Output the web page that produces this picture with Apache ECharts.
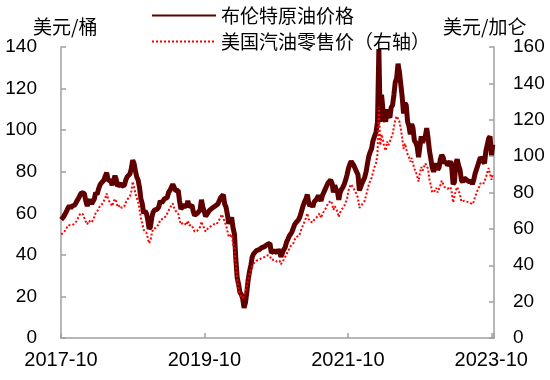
<!DOCTYPE html>
<html><head><meta charset="utf-8">
<script src="https://cdn.jsdelivr.net/npm/echarts@6/dist/echarts.min.js"></script>
<style>html,body{margin:0;padding:0;background:#fff}#c{width:550px;height:380px}</style>
</head><body><div id="c"></div>
<script>
// Weekly observations, starting Monday 2017-10-02
const firstWeek = '2017-10-02';
const seriesNames = ['布伦特原油价格', '美国汽油零售价（右轴）'];
const leftUnit = '美元/桶';
const rightUnit = '美元/加仑';
const xTickLabels = ['2017-10', '2019-10', '2021-10', '2023-10'];

// Brent crude (left axis)
const brent2017 = [57, 57.5, 58.5, 59, 61, 62.5, 63.5, 62.5, 63.5, 63, 64, 64.5, 66.5];
const brent2018 = [67.5, 69, 70, 70.5, 69.5, 66, 63.5, 65.5, 66.5, 64.5, 65, 67, 70,
  69, 71.5, 73.5, 74.5, 74.5, 76, 78, 79.5, 76, 76, 75.5, 73.5, 76,
  78, 76, 73, 73.5, 74.5, 73, 72.5, 73.5, 76, 77.5, 78, 79, 81.5,
  85.5, 84, 80.5, 77.5, 76, 72.5, 67, 64.5, 60, 61, 60, 57, 52.5, 53.5];
const brent2019 = [58, 60.5, 61.5, 61, 62, 63, 66, 65, 66, 67, 67.5, 67.5,
  70, 71, 71.5, 74, 72.5, 71, 71.5, 71, 66, 62, 62, 64, 64.5,
  63, 66, 63, 63.5, 64, 61, 59, 59.5, 60, 60.5, 61.5, 66.5, 63, 61,
  58.5, 59.5, 60.5, 61.5, 62, 62.5, 62.5, 63.5, 63, 64.5, 66, 67.5, 68];
const brent2020 = [69, 64.5, 63, 59.5, 55, 55.5, 58, 53, 50, 38, 29, 26, 22,
  21, 19, 14.5, 17, 22, 28, 32, 35, 39, 40.5, 40, 42, 41.5,
  42.5, 43, 43.5, 43.5, 44, 44.5, 45, 45.5, 45.5, 41, 40.5, 42, 41.5,
  41, 42.5, 41.5, 39, 38.5, 42.5, 43.5, 46, 47.5, 49, 50, 51, 51];
const brent2021 = [54.5, 55.5, 55.5, 57, 58.5, 61, 63.5, 65.5, 67, 69, 65, 63.5, 64.5,
  63, 65.5, 66, 67, 68.5, 68.5, 66, 68.5, 70, 71.5, 73, 74.5, 75,
  76, 74.5, 70, 73.5, 71.5, 70.5, 66.5, 70, 71.5, 72.5, 74, 76, 78.5,
  81.5, 83.5, 85, 84, 83, 82.5, 80, 78.5, 71, 71.5, 74.5, 74, 77.5];
const brent2022 = [80, 84, 87.5, 89.5, 91, 95, 97, 99, 104, 139, 104, 117, 110,
  106, 104, 110, 107, 106, 111, 112, 117, 123, 125, 132, 128, 122,
  116, 108, 113, 112, 104, 102, 98, 103, 101, 95, 94, 92, 87,
  92, 97, 94, 96, 97, 101, 96, 90, 86, 82, 80, 82, 84];
const brent2023 = [81, 82, 86, 88, 87, 84, 85, 83, 83, 85, 82, 74, 75,
  84, 86, 83, 81, 76, 75, 77, 77, 76, 76, 75, 76, 74,
  76, 79, 81, 83, 85, 87, 87, 85, 84, 90, 93, 96, 97, 88, 93];

// US retail gasoline (right axis)
const gas2017 = [57, 56.5, 58, 59, 60.5, 62, 63, 62, 63, 62.5, 63.5, 64, 65.5];
const gas2018 = [67, 68.5, 69.5, 68, 67, 64, 62.5, 64.5, 65, 63.5, 64.5, 66.5, 69,
  68, 70.5, 72.5, 73.5, 74, 75.5, 77, 79.5, 76.5, 75, 74.5, 72.5, 75,
  76.5, 75, 72, 72.5, 73, 71.5, 71, 72.5, 74.5, 76, 77, 78, 80.5,
  86, 83, 79.5, 77, 75, 71, 66, 63, 59.5, 60, 58, 55, 52, 53.5];
const gas2019 = [57.5, 60, 61, 60.5, 61.5, 62.5, 65, 64.5, 65.5, 66.5, 67, 68,
  70, 71.5, 72, 74, 71.5, 70, 69.5, 68.5, 65, 62.5, 63, 63.5, 64,
  62, 64.5, 62, 61.5, 62, 60, 58.5, 59.5, 59, 59.5, 61, 64, 62, 60.5,
  58.5, 59, 60.5, 61, 61.5, 62, 62.5, 63, 62.5, 63.5, 65, 66.5, 68];
const gas2020 = [68.5, 64, 62, 59, 55.5, 55, 57, 52, 49, 40, 32, 27, 24,
  23, 22, 21, 25, 29, 32.5, 35, 37.5, 39.5, 41, 41.5, 42.5, 42,
  43, 43.5, 44, 44, 44.5, 45, 45.5, 45.5, 45, 43, 42, 43, 42.5,
  42, 43, 42.5, 40.5, 40, 43, 44, 46, 47, 49, 50.5, 51.5, 52];
const gas2021 = [54, 55.5, 55.5, 56, 57.5, 60, 62, 64, 66, 68.5, 65.5, 64, 64.5,
  63.5, 65, 65.5, 66.5, 67.5, 68.5, 66, 68, 69.5, 70.5, 72, 74, 74.5,
  75.5, 74, 70.5, 72.5, 71, 69.5, 66.5, 69, 70.5, 71, 72.5, 74.5, 76.5,
  81, 83, 84.5, 83.5, 82, 81.5, 79, 77, 71.5, 70.5, 73.5, 73, 75.5];
const gas2022 = [78.5, 81.5, 84.5, 86.5, 88, 91, 94, 96, 101, 127, 106, 112, 109,
  105, 103, 108, 106, 106, 110, 112, 116, 120, 122, 123, 119, 115,
  110, 104, 107, 106, 101, 99.5, 97, 99, 98, 93, 91.5, 89, 86,
  91, 94, 92, 94, 96, 96, 93, 87, 84, 80, 79, 81, 82.5];
const gas2023 = [80, 81, 84, 86.5, 86, 83, 84, 82, 82, 83, 80, 74.5, 75.5,
  81, 83, 81, 79, 75, 74.5, 75.5, 76, 75, 75, 74.5, 75.5, 73.5,
  75, 77.5, 79.5, 81.5, 83, 85, 86, 84.5, 83.5, 88, 91, 93.5, 94, 87, 90];

const brent = [].concat(brent2017, brent2018, brent2019, brent2020, brent2021, brent2022, brent2023);
const gas = [].concat(gas2017, gas2018, gas2019, gas2020, gas2021, gas2022, gas2023);

// month offset since 2017-10-01 for each weekly date
function monthOffset(t) {
  const d = new Date(t);
  const y = d.getUTCFullYear(), mo = d.getUTCMonth(), day = d.getUTCDate();
  const dim = new Date(Date.UTC(y, mo + 1, 0)).getUTCDate();
  return (y - 2017) * 12 + (mo - 9) + (day - 1) / dim;
}
const t0 = Date.parse(firstWeek + 'T00:00:00Z');
const xs = brent.map((_, i) => monthOffset(t0 + i * 7 * 86400000));
const brentData = brent.map((v, i) => [xs[i], v]);
const gasData = gas.map((v, i) => [xs[i], v]);

const numFont = "'Liberation Sans', Arial, sans-serif";
const cjkFont = "'Noto Sans CJK SC', 'Liberation Sans', sans-serif";
const axisColor = '#a0a0a0';

const chart = echarts.init(document.getElementById('c'), null, {renderer: 'canvas'});
chart.setOption({
  animation: false,
  backgroundColor: '#fff',
  grid: {left: 61, right: 56, top: 47, bottom: 42, containLabel: false},
  legend: {
    orient: 'vertical', left: 146, top: 1, itemWidth: 64, itemHeight: 14, itemGap: 7,
    itemStyle: {opacity: 0},
    textStyle: {fontFamily: cjkFont, fontSize: 19, color: '#000'},
    data: seriesNames
  },
  graphic: [
    {type: 'text', left: 33, top: 17, style: {text: leftUnit, font: "19px " + cjkFont, fill: '#000'}},
    {type: 'text', left: 443, top: 17, style: {text: rightUnit, font: "19px " + cjkFont, fill: '#000'}}
  ],
  xAxis: {
    type: 'value', min: 0, max: 72.46, interval: 24,
    axisLine: {lineStyle: {color: axisColor, width: 1.5}},
    axisTick: {inside: true, length: 5, lineStyle: {color: axisColor, width: 1.5}},
    splitLine: {show: false},
    axisLabel: {
      margin: 12, fontSize: 20, fontFamily: numFont, color: '#000', hideOverlap: false,
      formatter: v => (Math.abs(v / 24 - Math.round(v / 24)) < 1e-6 ? xTickLabels[Math.round(v / 24)] : '')
    }
  },
  yAxis: [
    {
      type: 'value', min: 0, max: 140, interval: 20, position: 'left',
      axisLine: {show: true, lineStyle: {color: axisColor, width: 1.5}},
      axisTick: {show: true, inside: true, length: 5, lineStyle: {color: axisColor, width: 1.5}},
      splitLine: {show: false},
      axisLabel: {margin: 24, fontSize: 19, fontFamily: numFont, color: '#000'}
    },
    {
      type: 'value', min: 0, max: 160, interval: 20, position: 'right',
      axisLine: {show: true, lineStyle: {color: axisColor, width: 1.5}},
      axisTick: {show: true, inside: true, length: 5, lineStyle: {color: axisColor, width: 1.5}},
      splitLine: {show: false},
      axisLabel: {margin: 19, fontSize: 19, fontFamily: numFont, color: '#000'}
    }
  ],
  series: [
    {
      name: seriesNames[0], type: 'line', yAxisIndex: 0, data: brentData,
      symbol: 'none', color: '#5E0000',
      lineStyle: {color: '#5E0000', width: 5}, z: 2
    },
    {
      name: seriesNames[1], type: 'line', yAxisIndex: 1, data: gasData,
      symbol: 'none', color: '#FF0000',
      lineStyle: {color: '#FF0000', width: 2, type: 'dotted'}, z: 3
    }
  ]
});
</script></body></html>
